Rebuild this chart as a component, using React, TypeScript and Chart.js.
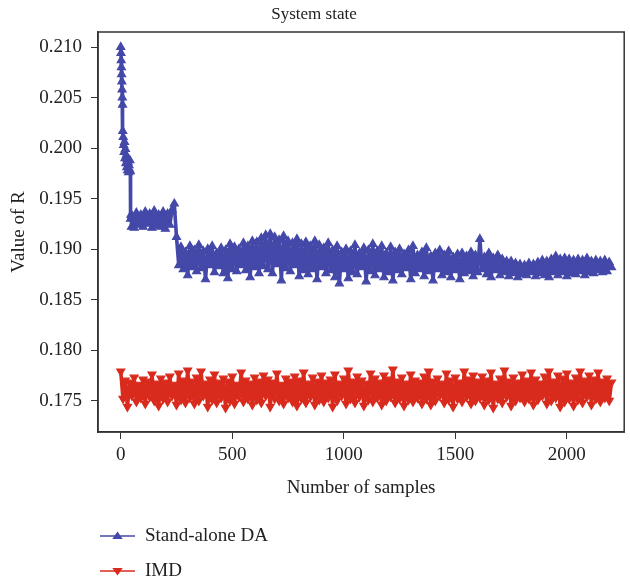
import React, { useEffect, useRef } from 'react';
import { Chart, registerables } from 'chart.js';

Chart.register(...registerables);

const TITLE = 'System state';
const X_LABEL = 'Number of samples';
const Y_LABEL = 'Value of R';
const SERIES_NAMES = ['Stand-alone DA', 'IMD'];
const X_TICKS = [0, 500, 1000, 1500, 2000];
const Y_TICKS = [0.175, 0.18, 0.185, 0.19, 0.195, 0.2, 0.205, 0.21];

const BLUE = '#4448a8';
const RED = '#d92b1d';
const INK = '#222222';
const FONT_FAMILY = "'Liberation Serif', 'Times New Roman', serif";

// Stand-alone DA: first samples (transient) read one by one
const blueStartSamples = [0, 1, 2, 3, 4, 5, 6, 7, 8, 9, 11, 13, 15, 17, 19, 21, 23, 25, 27, 29, 31, 33, 35, 37, 39, 41, 43, 44, 46, 48];
const blueStartValues = [
  0.2100, 0.2094, 0.2087, 0.2080, 0.2073, 0.2066, 0.2058, 0.2050, 0.2043, 0.2017,
  0.2011, 0.2003, 0.1996, 0.2006, 0.1990, 0.1999, 0.1985, 0.1993, 0.1981, 0.1989,
  0.1978, 0.1986, 0.1976, 0.1983, 0.1979, 0.1988, 0.1977, 0.1930, 0.1934, 0.1922,
];

// Stand-alone DA: samples 50, 60, ..., 2200
const BLUE_MAIN_FIRST_SAMPLE = 50;
const SAMPLE_STEP = 10;
const blueMainValues = [
  0.1933, 0.1921, 0.1936, 0.1924, 0.1934, 0.1922, 0.1937, 0.1925, 0.1935, 0.1921,
  0.1938, 0.1923, 0.1934, 0.1922, 0.1937, 0.1920, 0.1935, 0.1924, 0.1939, 0.1945,
  0.1912, 0.1884, 0.1902, 0.1880, 0.1897, 0.1874, 0.1903, 0.1882, 0.1899, 0.1878,
  0.1904, 0.1881, 0.1898, 0.1870, 0.1900, 0.1884, 0.1903, 0.1877, 0.1896, 0.1883,
  0.1901, 0.1876, 0.1899, 0.1871, 0.1905, 0.1880, 0.1902, 0.1878, 0.1900, 0.1884,
  0.1906, 0.1879, 0.1903, 0.1872, 0.1908, 0.1882, 0.1907, 0.1876, 0.1911, 0.1883,
  0.1914, 0.1880, 0.1915, 0.1876, 0.1912, 0.1885, 0.1909, 0.1869, 0.1913, 0.1881,
  0.1908, 0.1878, 0.1906, 0.1884, 0.1910, 0.1873, 0.1905, 0.1879, 0.1907, 0.1875,
  0.1903, 0.1880, 0.1908, 0.1870, 0.1904, 0.1882, 0.1901, 0.1876, 0.1906, 0.1879,
  0.1899, 0.1872, 0.1903, 0.1866, 0.1897, 0.1880, 0.1900, 0.1871, 0.1898, 0.1877,
  0.1904, 0.1875, 0.1896, 0.1882, 0.1901, 0.1868, 0.1899, 0.1878, 0.1905, 0.1874,
  0.1898, 0.1880, 0.1903, 0.1872, 0.1896, 0.1877, 0.1902, 0.1869, 0.1897, 0.1879,
  0.1900, 0.1875, 0.1895, 0.1881, 0.1899, 0.1870, 0.1903, 0.1876, 0.1894, 0.1880,
  0.1897, 0.1873, 0.1901, 0.1878, 0.1893, 0.1869, 0.1896, 0.1880, 0.1899, 0.1874,
  0.1894, 0.1877, 0.1898, 0.1872, 0.1892, 0.1879, 0.1895, 0.1870, 0.1896, 0.1876,
  0.1893, 0.1878, 0.1897, 0.1873, 0.1894, 0.1877, 0.1910, 0.1880, 0.1892, 0.1875,
  0.1896, 0.1872, 0.1891, 0.1879, 0.1894, 0.1874, 0.1890, 0.1877, 0.1888, 0.1873,
  0.1888, 0.1876, 0.1886, 0.1872, 0.1885, 0.1875, 0.1884, 0.1874, 0.1886, 0.1877,
  0.1885, 0.1873, 0.1887, 0.1876, 0.1889, 0.1874, 0.1888, 0.1872, 0.1890, 0.1877,
  0.1893, 0.1874, 0.1890, 0.1877, 0.1891, 0.1873, 0.1890, 0.1876, 0.1889, 0.1875,
  0.1890, 0.1878, 0.1889, 0.1874, 0.1891, 0.1877, 0.1888, 0.1876, 0.1889, 0.1879,
  0.1888, 0.1877, 0.1889, 0.1878, 0.1887, 0.1882,
];

// IMD: samples 0, 10, ..., 2200
const redValues = [
  0.1779, 0.1752, 0.1770, 0.1744, 0.1768, 0.1755, 0.1773, 0.1749, 0.1766, 0.1753,
  0.1771, 0.1747, 0.1769, 0.1754, 0.1776, 0.1750, 0.1767, 0.1745, 0.1772, 0.1752,
  0.1768, 0.1749, 0.1774, 0.1755, 0.1766, 0.1746, 0.1777, 0.1751, 0.1770, 0.1748,
  0.1780, 0.1753, 0.1769, 0.1747, 0.1773, 0.1750, 0.1779, 0.1755, 0.1767, 0.1744,
  0.1771, 0.1751, 0.1776, 0.1748, 0.1768, 0.1753, 0.1772, 0.1743, 0.1769, 0.1750,
  0.1774, 0.1747, 0.1766, 0.1754, 0.1778, 0.1749, 0.1770, 0.1752, 0.1767, 0.1746,
  0.1773, 0.1751, 0.1769, 0.1748, 0.1775, 0.1755, 0.1771, 0.1744, 0.1768, 0.1752,
  0.1777, 0.1750, 0.1766, 0.1747, 0.1772, 0.1753, 0.1769, 0.1749, 0.1774, 0.1745,
  0.1770, 0.1752, 0.1778, 0.1748, 0.1767, 0.1754, 0.1773, 0.1746, 0.1769, 0.1751,
  0.1775, 0.1749, 0.1768, 0.1753, 0.1771, 0.1744, 0.1776, 0.1750, 0.1767, 0.1755,
  0.1772, 0.1747, 0.1780, 0.1752, 0.1769, 0.1748, 0.1774, 0.1754, 0.1770, 0.1745,
  0.1767, 0.1751, 0.1777, 0.1749, 0.1772, 0.1753, 0.1768, 0.1746, 0.1775, 0.1750,
  0.1771, 0.1754, 0.1781, 0.1748, 0.1769, 0.1752, 0.1773, 0.1745, 0.1767, 0.1751,
  0.1776, 0.1749, 0.1770, 0.1753, 0.1768, 0.1747, 0.1774, 0.1752, 0.1779, 0.1746,
  0.1769, 0.1750, 0.1772, 0.1755, 0.1767, 0.1748, 0.1777, 0.1751, 0.1770, 0.1744,
  0.1773, 0.1752, 0.1768, 0.1749, 0.1779, 0.1754, 0.1771, 0.1747, 0.1775, 0.1750,
  0.1769, 0.1753, 0.1774, 0.1746, 0.1770, 0.1751, 0.1778, 0.1743, 0.1767, 0.1752,
  0.1772, 0.1748, 0.1780, 0.1754, 0.1769, 0.1745, 0.1773, 0.1750, 0.1768, 0.1753,
  0.1776, 0.1749, 0.1770, 0.1752, 0.1778, 0.1746, 0.1771, 0.1751, 0.1767, 0.1755,
  0.1774, 0.1747, 0.1779, 0.1750, 0.1769, 0.1753, 0.1775, 0.1744, 0.1772, 0.1749,
  0.1777, 0.1752, 0.1768, 0.1745, 0.1773, 0.1751, 0.1779, 0.1748, 0.1770, 0.1754,
  0.1775, 0.1746, 0.1771, 0.1752, 0.1778, 0.1749, 0.1769, 0.1753, 0.1772, 0.1750,
  0.1768,
];

const X_MIN = -102;
const X_MAX = 2257;
const Y_MIN = 0.1719;
const Y_MAX = 0.2115;

const framePlugin = {
  id: 'frameBox',
  afterDatasetsDraw(chart: any) {
    const { ctx, chartArea } = chart;
    ctx.save();
    ctx.strokeStyle = '#333333';
    ctx.lineWidth = 1.5;
    ctx.strokeRect(chartArea.left, chartArea.top, chartArea.right - chartArea.left, chartArea.bottom - chartArea.top);
    ctx.restore();
  },
};

const stackedLegendPlugin = {
  id: 'stackedLegend',
  afterDraw(chart: any) {
    const { ctx } = chart;
    const rows = [chart.height - 48, chart.height - 13];
    chart.data.datasets.forEach((ds: any, i: number) => {
      const y = rows[i];
      const color = ds.borderColor;
      ctx.save();
      ctx.strokeStyle = color;
      ctx.fillStyle = color;
      ctx.lineWidth = 1.5;
      ctx.beginPath();
      ctx.moveTo(100, y);
      ctx.lineTo(135, y);
      ctx.stroke();
      const r = 6;
      const cx = 117.5;
      const down = ds.pointRotation === 180;
      ctx.beginPath();
      if (down) {
        ctx.moveTo(cx, y + r * 0.75);
        ctx.lineTo(cx + r * 0.866, y - r * 0.5);
        ctx.lineTo(cx - r * 0.866, y - r * 0.5);
      } else {
        ctx.moveTo(cx, y - r * 0.75);
        ctx.lineTo(cx + r * 0.866, y + r * 0.5);
        ctx.lineTo(cx - r * 0.866, y + r * 0.5);
      }
      ctx.closePath();
      ctx.fill();
      ctx.fillStyle = INK;
      ctx.font = `19px ${FONT_FAMILY}`;
      ctx.textBaseline = 'middle';
      ctx.textAlign = 'left';
      ctx.fillText(ds.label, 145, y);
      ctx.restore();
    });
  },
};

export default function App() {
  const canvasRef = useRef<HTMLCanvasElement | null>(null);

  useEffect(() => {
    if (!canvasRef.current) return;

    const blueData = blueStartSamples
      .map((x, i) => ({ x, y: blueStartValues[i] }))
      .concat(blueMainValues.map((y, i) => ({ x: BLUE_MAIN_FIRST_SAMPLE + i * SAMPLE_STEP, y })));
    const redData = redValues.map((y, i) => ({ x: i * SAMPLE_STEP, y }));

    const tickFont = { family: FONT_FAMILY, size: 19 };

    const seriesStyle = (color: string, rotation: number) => ({
      borderColor: color,
      backgroundColor: color,
      borderWidth: 3.6,
      borderJoinStyle: 'round' as const,
      borderCapStyle: 'round' as const,
      pointStyle: 'triangle' as const,
      pointRadius: 4.6,
      pointBorderWidth: 1.2,
      pointBackgroundColor: color,
      pointBorderColor: color,
      pointRotation: rotation,
      tension: 0,
    });

    const chart = new Chart(canvasRef.current, {
      type: 'line',
      data: {
        datasets: [
          { label: SERIES_NAMES[0], data: blueData, ...seriesStyle(BLUE, 0) },
          { label: SERIES_NAMES[1], data: redData, ...seriesStyle(RED, 180) },
        ],
      },
      options: {
        animation: false,
        responsive: false,
        maintainAspectRatio: false,
        events: [],
        layout: { padding: { left: 0, right: 2, top: 0, bottom: 74 } },
        plugins: {
          legend: { display: false },
          tooltip: { enabled: false },
          title: {
            display: true,
            text: TITLE,
            color: INK,
            font: { family: FONT_FAMILY, size: 17, weight: 'normal' },
            padding: { top: 4, bottom: 7.6 },
          },
        },
        scales: {
          x: {
            type: 'linear',
            min: X_MIN,
            max: X_MAX,
            afterBuildTicks: (scale: any) => {
              scale.ticks = X_TICKS.map((v) => ({ value: v }));
            },
            afterFit: (scale: any) => {
              scale.height = 78;
            },
            grid: { display: true, drawOnChartArea: false, drawTicks: true, tickLength: 7, color: '#333333', lineWidth: 1 },
            border: { display: true, color: '#333333', width: 1.5 },
            ticks: {
              font: tickFont,
              color: INK,
              padding: 5,
              maxRotation: 0,
              autoSkip: false,
              callback: (v: any) => String(v),
            },
            title: {
              display: true,
              text: X_LABEL,
              color: INK,
              font: tickFont,
              padding: { top: 0, bottom: 10.6 },
            },
          },
          y: {
            type: 'linear',
            min: Y_MIN,
            max: Y_MAX,
            afterBuildTicks: (scale: any) => {
              scale.ticks = Y_TICKS.map((v) => ({ value: v }));
            },
            afterFit: (scale: any) => {
              scale.width = 98;
            },
            grid: { display: true, drawOnChartArea: false, drawTicks: true, tickLength: 7, color: '#333333', lineWidth: 1 },
            border: { display: true, color: '#333333', width: 1.5 },
            ticks: {
              font: tickFont,
              color: INK,
              padding: 9,
              autoSkip: false,
              callback: (v: any) => Number(v).toFixed(3),
            },
            title: {
              display: true,
              text: Y_LABEL,
              color: INK,
              font: tickFont,
              padding: { top: 7.6, bottom: 0 },
            },
          },
        },
      },
      plugins: [framePlugin, stackedLegendPlugin],
    });

    return () => {
      chart.destroy();
    };
  }, []);

  return (
    <div style={{ position: 'absolute', left: 0, top: 0, width: 630, height: 584, background: '#ffffff' }}>
      <canvas ref={canvasRef} width={630} height={584} style={{ width: 630, height: 584 }} />
    </div>
  );
}
